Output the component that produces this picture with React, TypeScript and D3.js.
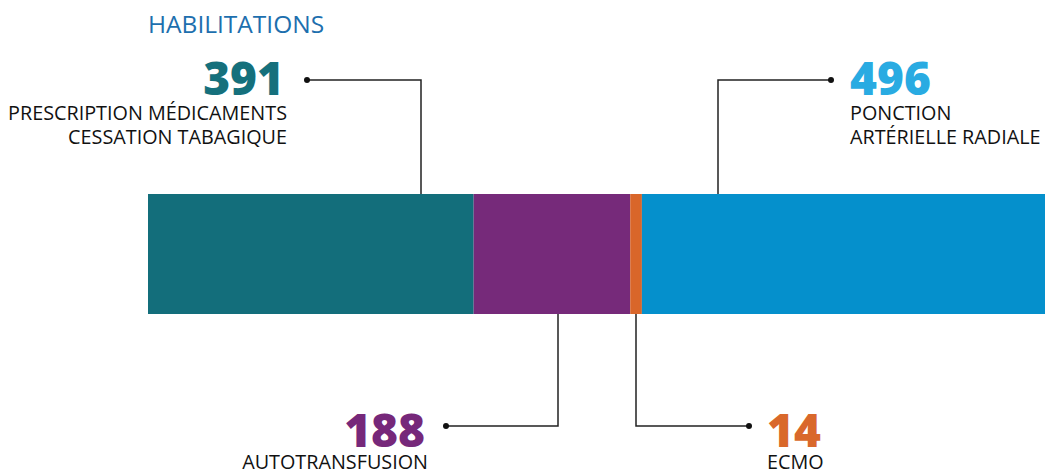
import React from "react";
import * as d3 from "d3";

const categories = ["PRESCRIPTION MÉDICAMENTS\nCESSATION TABAGIQUE", "AUTOTRANSFUSION", "ECMO", "PONCTION\nARTÉRIELLE RADIALE"];
const values = [391, 188, 14, 496];
const barColors = ["#136e7b", "#762a7a", "#d9662a", "#0590cc"];
const numberColors = ["#15707c", "#76287a", "#d9682b", "#29abe2"];
const title = "HABILITATIONS";

// label layout: side (top/bottom), leader x, elbow y, dot x, text anchor
const labelLayout = [
  { side: "top", lx: 421, ey: 80, dotX: 307, tx: 284, anchor: "end" },
  { side: "bottom", lx: 558, ey: 426, dotX: 446, tx: 425, anchor: "end" },
  { side: "bottom", lx: 636, ey: 426, dotX: 749, tx: 767, anchor: "start" },
  { side: "top", lx: 718, ey: 80, dotX: 831, tx: 850, anchor: "start" },
];

export default function App() {
  const W = 1045, H = 471;
  const barTop = 194, barBottom = 314;
  const total = d3.sum(values);
  const x = d3.scaleLinear().domain([0, total]).range([148, 1055]);
  const stack = d3.cumsum(values);
  const starts = values.map((v, i) => (i === 0 ? 0 : stack[i - 1]));
  const font = "'Open Sans', sans-serif";

  return (
    <svg width={W} height={H} style={{ position: "absolute", left: 0, top: 0, background: "#fff" }}>
      <text x={148} y={33} fill="#1d6fae" fontFamily={font} fontSize={24.5}>{title}</text>
      {values.map((v, i) => (
        <rect key={"r" + i} x={x(starts[i])} y={barTop} width={x(starts[i] + v) - x(starts[i])} height={barBottom - barTop} fill={barColors[i]} />
      ))}
      {labelLayout.map((L, i) => {
        const barY = L.side === "top" ? barTop : barBottom;
        const lines = categories[i].split("\n");
        const numY = L.side === "top" ? 95 : 447;
        const lineY0 = L.side === "top" ? 120 : 469;
        return (
          <g key={"l" + i}>
            <path d={`M${L.lx},${barY}V${L.ey}H${L.dotX}`} fill="none" stroke="#222" strokeWidth={1.5} />
            <circle cx={L.dotX} cy={L.ey} r={3} fill="#111" />
            <text x={L.tx} y={numY} textAnchor={L.anchor} fill={numberColors[i]} fontFamily={font} fontWeight={800} fontSize={46}>{values[i]}</text>
            {lines.map((t, j) => (
              <text key={j} x={L.anchor === "end" ? L.tx + 3 : L.tx} y={lineY0 + j * 24} textAnchor={L.anchor} fill="#111" fontFamily={font} fontSize={19.8}>{t}</text>
            ))}
          </g>
        );
      })}
    </svg>
  );
}
